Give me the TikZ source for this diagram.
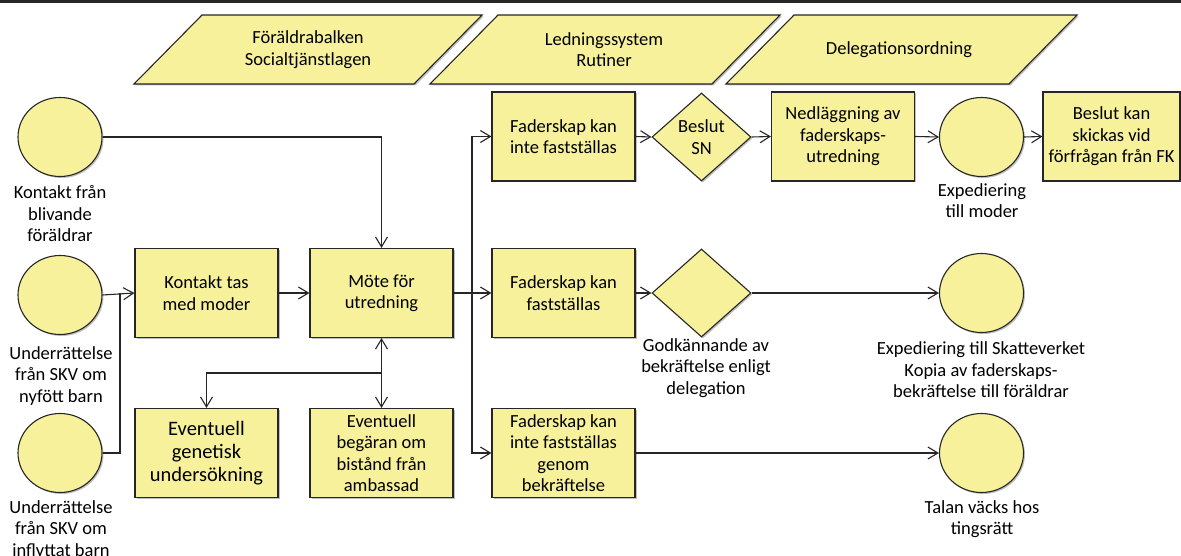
\documentclass[tikz,border=0pt]{standalone}
\usepackage{fontspec}
\setmainfont{Carlito}
\usetikzlibrary{shapes.geometric,arrows.meta,shadows}
\definecolor{boxfill}{RGB}{247,241,155}
\definecolor{edge}{RGB}{38,38,38}
\begin{document}
\begin{tikzpicture}[x=1pt,y=-1pt,
  txt/.style={font=\fontsize{18.5}{21.5}\selectfont, align=center, text=black},
  bigtxt/.style={font=\fontsize{20.5}{23}\selectfont},
  softshadow/.style={drop shadow={shadow xshift=1.5pt, shadow yshift=-1.5pt, fill=black, opacity=0.25}},
  shp/.style={txt, draw=edge, line width=1.1pt, fill=boxfill, inner sep=0pt, softshadow},
  lawbox/.style={draw=edge, line width=1.1pt, fill=boxfill, softshadow},
  procbox/.style={shp, rectangle, minimum width=143pt, minimum height=89pt},
  endpoint/.style={shp, ellipse, minimum width=84pt, minimum height=79pt},
  decision/.style={shp, diamond, minimum width=99pt, minimum height=88pt},
  caption/.style={txt},
  flow/.style={draw=edge, line width=1.1pt},
  tip/.style={flow, -{Straight Barb[length=10pt,width=12pt]}},
  twotip/.style={flow, {Straight Barb[length=10pt,width=12pt]}-{Straight Barb[length=10pt,width=12pt]}},
  ]
\useasboundingbox (0,0) rectangle (1181,556);
\fill[edge] (0,0) rectangle (1181,3);

% governing documents along the top
\path[lawbox] (134,84) -- (202,15) -- (482,15) -- (414,84) -- cycle;
\node[txt] (law1) at (308,49.5) {Föräldrabalken\\Socialtjänstlagen};
\path[lawbox] (430,84) -- (498,15) -- (780,15) -- (712,84) -- cycle;
\node[txt] (law2) at (604,49.5) {Ledningssystem\\Rutiner};
\path[lawbox] (726,84) -- (794,15) -- (1077,15) -- (1009,84) -- cycle;
\node[txt] (law3) at (899,49.5) {Delegationsordning};

% incoming contacts
\node[endpoint] (c1) at (60,137) {};
\node[caption] (c1l) at (60,214) {Kontakt från\\blivande\\föräldrar};
\node[endpoint] (c2) at (60,295) {};
\node[caption] (c2l) at (61,376) {Underrättelse\\från SKV om\\nyfött barn};
\node[endpoint] (c3) at (60,453) {};
\node[caption] (c3l) at (61,530) {Underrättelse\\från SKV om\\inflyttat barn};

% investigation
\node[procbox] (kontakt) at (206.5,293) {Kontakt tas\\med moder};
\node[procbox] (mote) at (381.5,293) {Möte för\\utredning};
\node[procbox, bigtxt] (genetisk) at (206.5,453) {Eventuell\\genetisk\\undersökning};
\node[procbox] (ambassad) at (381.5,453) {Eventuell\\begäran om\\bistånd från\\ambassad};

% outcomes
\node[procbox] (fk1) at (563.5,136.5) {Faderskap kan\\inte fastställas};
\node[decision] (sn) at (701.5,137) {Beslut\\SN};
\node[procbox] (ned) at (843,136.5) {Nedläggning av\\faderskaps-\\utredning};
\node[endpoint] (exp1) at (981.5,137) {};
\node[caption] (exp1l) at (982,200.5) {Expediering\\till moder};
\node[procbox, minimum width=137pt] (fkbeslut) at (1111.5,136.5) {Beslut kan\\skickas vid\\förfrågan från FK};

\node[procbox] (fk2) at (563.5,293) {Faderskap kan\\fastställas};
\node[decision] (godk) at (701.5,293) {};
\node[caption] (godkl) at (706,368) {Godkännande av\\bekräftelse enligt\\delegation};
\node[endpoint] (exp2) at (981.5,293) {};
\node[caption] (exp2l) at (981,370) {Expediering till Skatteverket\\Kopia av faderskaps-\\bekräftelse till föräldrar};

\node[procbox] (fk3) at (563.5,453) {Faderskap kan\\inte fastställas\\genom\\bekräftelse};
\node[endpoint] (talan) at (981.5,453) {};
\node[caption] (talanl) at (982,519) {Talan väcks hos\\tingsrätt};

% junction points
\coordinate (jin) at (120,293);
\coordinate (jout) at (472,293);
\coordinate (jdown) at (381.5,373);

% connectors
\draw[tip] (c1.east) -| (mote.north);
\draw[tip] (c2.east) -- (kontakt.west);
\draw[flow] (c3.east) -| (jin);
\draw[tip] (kontakt.east) -- (mote.west);
\draw[twotip] (mote.south) -- (ambassad.north);
\draw[tip] (jdown) -| (genetisk.north);
\draw[flow] (mote.east) -- (jout);
\draw[tip] (jout) |- (fk1.west);
\draw[tip] (jout) -- (fk2.west);
\draw[tip] (jout) |- (fk3.west);

\draw[tip] (fk1.east) -- (sn.west);
\draw[tip] (sn.east) -- (ned.west);
\draw[tip] (ned.east) -- (exp1.west);
\draw[tip] (exp1.east) -- (fkbeslut.west);

\draw[tip] (fk2.east) -- (godk.west);
\draw[tip] (godk.east) -- (exp2.west);
\draw[tip] (fk3.east) -- (talan.west);
\end{tikzpicture}
\end{document}
